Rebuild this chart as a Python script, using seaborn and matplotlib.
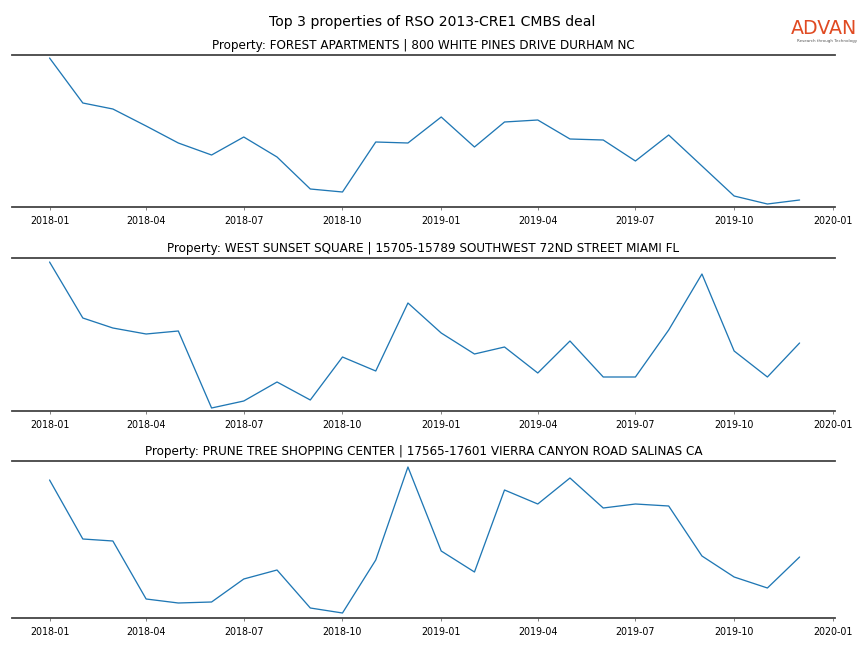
import matplotlib
matplotlib.use("Agg")
import matplotlib.pyplot as plt
import matplotlib.dates as mdates
import numpy as np
import pandas as pd
import seaborn as sns

months = pd.date_range("2018-01-01", "2019-12-01", freq="MS")

titles = [
    "Property: FOREST APARTMENTS | 800 WHITE PINES DRIVE DURHAM NC",
    "Property: WEST SUNSET SQUARE | 15705-15789 SOUTHWEST 72ND STREET MIAMI FL",
    "Property: PRUNE TREE SHOPPING CENTER | 17565-17601 VIERRA CANYON ROAD SALINAS CA",
]

# visits per month (relative scale)
forest = [152, 107, 101, 84, 67, 55, 73, 53, 21, 18, 68, 67, 93, 63, 88, 90, 71, 70, 49, 75, 44, 14, 6, 10]
sunset = [153, 97, 87, 81, 84, 7, 14, 33, 15, 58, 44, 112, 82, 61, 68, 42, 74, 38, 38, 85, 141, 64, 38, 72]
prune = [140, 81, 79, 21, 17, 18, 41, 50, 12, 7, 60, 153, 69, 48, 130, 116, 142, 112, 116, 114, 64, 43, 32, 63]

series = [forest, sunset, prune]
ylims = [(3, 155), (4, 157), (2, 159)]

sns.set_style("ticks")
plt.rcParams["text.color"] = "black"
plt.rcParams["xtick.labelcolor"] = "black"

fig, axes = plt.subplots(3, 1, figsize=(12, 9), dpi=72)

# axes boxes in pixels (top, bottom)
boxes = [(55, 207), (258, 411), (461, 618)]
W, H = 864, 648
for ax, (t, b) in zip(axes, boxes):
    ax.set_position([12 / W, 1 - b / H, (835 - 12) / W, (b - t) / H])

for ax, vals, title, yl in zip(axes, series, titles, ylims):
    df = pd.DataFrame({"date": months, "visits": vals})
    sns.lineplot(data=df, x="date", y="visits", ax=ax, color="#1f77b4", linewidth=1.3)
    ax.set_title(title, fontsize=12, color="black")
    ax.set_xlabel("")
    ax.set_ylabel("")
    ax.set_yticks([])
    ax.set_ylim(*yl)
    for side in ["left", "right"]:
        ax.spines[side].set_visible(False)
    for side in ["top", "bottom"]:
        ax.spines[side].set_color("#444444")
        ax.spines[side].set_linewidth(1.8)
    ax.xaxis.set_major_locator(mdates.MonthLocator(bymonth=[1, 4, 7, 10]))
    ax.xaxis.set_major_formatter(mdates.DateFormatter("%Y-%m"))
    ax.tick_params(axis="x", labelsize=9.5, length=3, color="#666666", pad=6)
    ax.set_xlim(pd.Timestamp("2017-11-27"), pd.Timestamp("2020-01-03"))

fig.suptitle("Top 3 properties of RSO 2013-CRE1 CMBS deal", fontsize=14, y=0.977, color="black")

fig.text(0.992, 0.942, "ADVAN", color="#e04a22", fontsize=19, ha="right", va="bottom")
fig.text(0.992, 0.934, "Research through Technology", color="#555555", fontsize=4, ha="right", va="bottom")

plt.savefig("out.png", dpi=72)
plt.close()
